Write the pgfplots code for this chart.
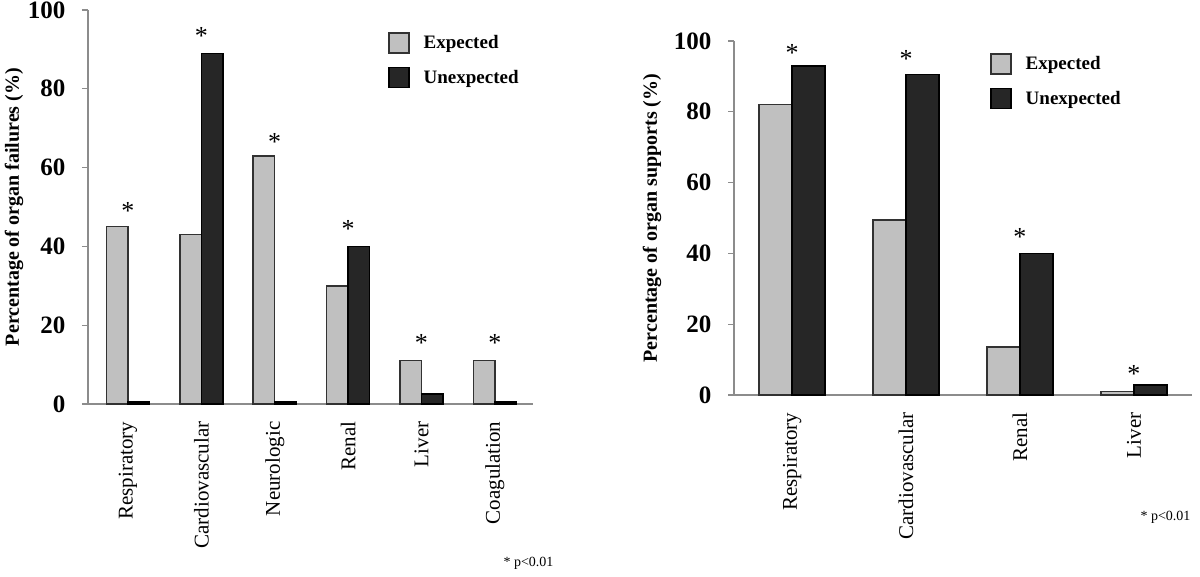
\documentclass[border=0pt]{standalone}
\usepackage{fontspec}
\setmainfont{Liberation Serif}
\usepackage{pgfplots}
\pgfplotsset{compat=1.18}
\definecolor{expfill}{RGB}{192,192,192}
\definecolor{expdraw}{RGB}{50,50,50}
\definecolor{unexfill}{RGB}{38,38,38}
\definecolor{axgray}{RGB}{140,140,140}
\pgfplotsset{
  panel/.style={
    scale only axis,
    anchor=south west,
    ymin=0, ymax=100,
    ytick={0,20,40,60,80,100},
    axis x line*=bottom,
    axis y line*=left,
    axis line style={axgray, line width=1.2pt},
    y tick style={axgray, line width=1.2pt},
    ytick pos=left,
    tick align=outside,
    major tick length=6pt,
    xtick style={draw=none},
    /pgf/number format/assume math mode=true,
    yticklabel style={font=\fontsize{25}{25}\selectfont\bfseries},
    yticklabel shift=13pt,
    xticklabel style={rotate=90, anchor=east, font=\fontsize{21}{21}\selectfont},
    xticklabel shift=8pt,
    ylabel style={font=\fontsize{20}{20}\selectfont\bfseries, anchor=center},
    legend cell align=left,
    legend style={draw=none, fill=none, inner sep=0pt, font=\fontsize{19}{19}\selectfont\bfseries,
      row sep=13pt, nodes={inner sep=3pt},
      /tikz/every odd column/.append style={column sep=11pt}},
    every node near coord/.style={font=\fontsize{26}{26}\selectfont, anchor=center, inner sep=0pt},
  },
  expbar/.style={ybar, fill=expfill, draw=expdraw, line width=1.5pt,
    legend image code/.code={\draw[fill=expfill, draw=expdraw, line width=1.5pt] (0pt,-10pt) rectangle (20pt,10pt);}},
  unexbar/.style={ybar, fill=unexfill, draw=black, line width=1.5pt,
    legend image code/.code={\draw[fill=unexfill, draw=black, line width=1.5pt] (0pt,-10pt) rectangle (20pt,10pt);}},
}
\begin{document}
\begin{tikzpicture}
\path[use as bounding box] (0pt,0pt) rectangle (1200pt,-577pt);
% Left panel: organ failures
\begin{axis}[panel,
  at={(88pt,-404pt)}, width=445pt, height=394pt,
  xmin=-0.545, xmax=5.52,
  xtick={0,1,2,3,4,5},
  xticklabels={Respiratory,Cardiovascular,Neurologic,Renal,Liver,Coagulation},
  ylabel={Percentage of organ failures (\%)},
  ylabel style={at={(axis description cs:-0.166,0.5)}},
  legend style={at={(axis description cs:0.674,0.944)}, anchor=north west},
]
\addplot[expbar, bar width=21.5pt, bar shift=-10.75pt] coordinates {(0,45) (1,43) (2,63) (3,30) (4,11) (5,11)};
\addlegendentry{Expected}
\addplot[unexbar, bar width=21.5pt, bar shift=10.75pt] coordinates {(0,0.5) (1,89) (2,0.5) (3,40) (4,2.5) (5,0.5)};
\addlegendentry{Unexpected}
\addplot[draw=none, mark=none, forget plot, nodes near coords={*}] coordinates {(0,49) (1,93.5) (2,66.5) (3,44.5) (4,15.5) (5,15.5)};
\end{axis}
% Right panel: organ supports
\begin{axis}[panel,
  at={(734pt,-395pt)}, width=458pt, height=354pt,
  xmin=-0.51, xmax=3.51,
  xtick={0,1,2,3},
  xticklabels={Respiratory,Cardiovascular,Renal,Liver},
  ylabel={Percentage of organ supports (\%)},
  ylabel style={at={(axis description cs:-0.179,0.5)}},
  legend style={at={(axis description cs:0.559,0.966)}, anchor=north west},
]
\addplot[expbar, bar width=33pt, bar shift=-16.5pt] coordinates {(0,82) (1,49.5) (2,13.5) (3,1)};
\addlegendentry{Expected}
\addplot[unexbar, bar width=33pt, bar shift=16.5pt] coordinates {(0,93) (1,90.5) (2,40) (3,2.8)};
\addlegendentry{Unexpected}
\addplot[draw=none, mark=none, forget plot, nodes near coords={*}] coordinates {(0,96.5) (1,95) (2,44.5) (3,6)};
\end{axis}
\node[anchor=west, font=\fontsize{14}{14}\selectfont] at (500pt,-563pt) {* p<0.01};
\node[anchor=west, font=\fontsize{14}{14}\selectfont] at (1137pt,-517pt) {* p<0.01};
\end{tikzpicture}
\end{document}
